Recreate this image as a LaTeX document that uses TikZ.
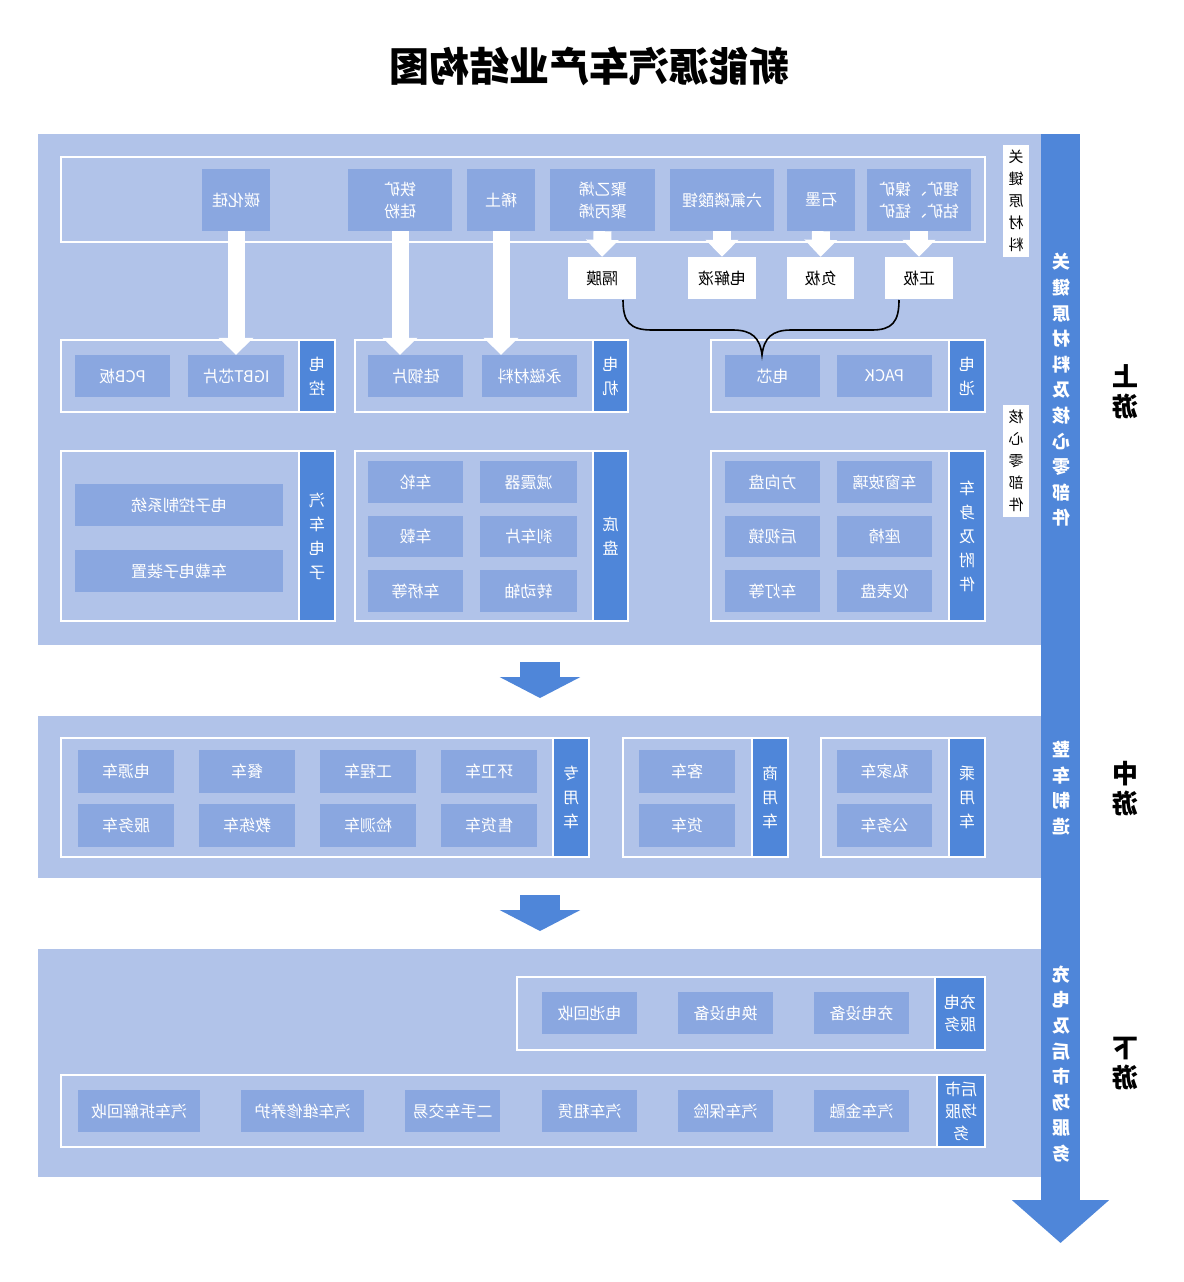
\documentclass[tikz,border=0pt]{standalone}
\usepackage{fontspec}
\setmainfont{Noto Sans CJK SC}
\usetikzlibrary{arrows.meta}
\definecolor{secbg}{HTML}{B1C3E9}
\definecolor{boxc}{HTML}{8AA7E0}
\definecolor{labc}{HTML}{4F86D9}
\tikzset{
 mir/.style={xscale=-1},
 grp/.style={draw=white, line width=1.8pt, inner sep=0},
 bx/.style={fill=boxc, text=white, inner sep=0, mir, font=\fontsize{16}{22}\selectfont, align=center},
 lab/.style={fill=labc, draw=white, line width=1.8pt, text=white, inner sep=0, mir, font=\fontsize{16}{24}\selectfont, align=center},
 labtwo/.style={lab, font=\fontsize{16}{22}\selectfont},
 wb/.style={fill=white, text=black, inner sep=0, mir, font=\fontsize{16}{22}\selectfont, align=center},
 wlab/.style={fill=white, text=black, inner sep=0, mir, font=\fontsize{15}{22}\selectfont, align=center},
 bigtxt/.style={text=white, mir, inner sep=0, font=\bfseries\fontsize{18}{25.6}\selectfont, align=center},
 stage/.style={text=black, mir, inner sep=0, font=\bfseries\fontsize{26}{30}\selectfont, align=center},
 warr/.style={draw=white, line width=17pt, -{Triangle[width=34pt,length=17pt]}},
 sarr/.style={draw=white, line width=18pt, -{Triangle[width=32pt,length=17pt]}},
 secarr/.style={draw=labc, line width=40pt, -{Triangle[width=80pt,length=21pt]}},
}
\newcommand\mybox[7]{\node[#6, minimum width={(#4)-(#2)}, minimum height={(#5)-(#3)}] (#1) at ({((#2)+(#4))/2},{((#3)+(#5))/2}) {#7};}
\begin{document}
\begin{tikzpicture}[x=1pt,y=-1pt]
\fill[white] (0,0) rectangle (1183,1282);
\useasboundingbox (0,0) rectangle (1183,1282);
% title
\node[mir, inner sep=0, font=\bfseries\fontsize{40}{42}\selectfont] (title) at (589,66) {新能源汽车产业结构图};
% sections
\mybox{s1}{38}{134}{1041}{645}{fill=secbg, inner sep=0}{}
\mybox{s2}{38}{716}{1041}{878}{fill=secbg, inner sep=0}{}
\mybox{s3}{38}{949}{1041}{1177}{fill=secbg, inner sep=0}{}
% big bar arrow
\coordinate (bartop) at (1060.5,134);
\coordinate (barend) at (1060.5,1243);
\draw[draw=labc, line width=39pt, -{Triangle[width=95pt,length=43pt]}] (bartop) -- (barend);
% section arrows
\coordinate (a1s) at (540,662); \coordinate (a1e) at (540,698);
\coordinate (a2s) at (540,895); \coordinate (a2e) at (540,931);
\draw[secarr] (a1s) -- (a1e);
\draw[secarr] (a2s) -- (a2e);
% key materials
\mybox{g0}{61}{157}{985}{242}{grp}{}
\mybox{m1}{202}{169}{270}{231}{bx}{碳化硅}
\mybox{m2}{348}{169}{452}{231}{bx}{铁矿\\硅粉}
\mybox{m3}{467}{169}{535}{231}{bx}{稀土}
\mybox{m4}{550}{169}{655}{231}{bx}{聚乙烯\\聚丙烯}
\mybox{m5}{670}{169}{774}{231}{bx}{六氟磷酸锂}
\mybox{m6}{787}{169}{855}{231}{bx}{石墨}
\mybox{m7}{867}{169}{971}{231}{bx}{锂矿、镍矿\\钴矿、锰矿}
\mybox{w1}{568}{257}{636}{299}{wb}{隔膜}
\mybox{w2}{688}{257}{756}{299}{wb}{电解液}
\mybox{w3}{787}{257}{854}{299}{wb}{负极}
\mybox{w4}{885}{257}{953}{299}{wb}{正极}
\draw[sarr] (m4.south) -- (w1.north);
\draw[sarr] (m5.south) -- (w2.north);
\draw[sarr] (m6.south) -- (w3.north);
\draw[sarr] (m7.south) -- (w4.north);
\mybox{k1}{1003}{145}{1029}{257}{wlab}{关\\键\\原\\材\\料}
\mybox{k2}{1003}{405}{1029}{517}{wlab}{核\\心\\零\\部\\件}
% row 2
\mybox{g1}{61}{340}{335}{412}{grp}{}
\mybox{l1}{299}{340}{335}{412}{lab}{电\\控}
\mybox{b11}{75}{355}{170}{397}{bx}{PCB板}
\mybox{b12}{188}{355}{284}{397}{bx}{IGBT芯片}
\mybox{g2}{355}{340}{628}{412}{grp}{}
\mybox{l2}{593}{340}{628}{412}{lab}{电\\机}
\mybox{b21}{368}{355}{463}{397}{bx}{硅钢片}
\mybox{b22}{482}{355}{577}{397}{bx}{永磁材料}
\mybox{g3}{711}{340}{985}{412}{grp}{}
\mybox{l3}{949}{340}{985}{412}{lab}{电\\池}
\mybox{b31}{725}{355}{820}{397}{bx}{电芯}
\mybox{b32}{837}{355}{932}{397}{bx}{PACK}
\draw[warr] (m1.south) -- (b12.north);
\draw[warr] (m2.south) -- (m2.south |- b21.north);
\draw[warr] (m3.south) -- (m3.south |- b22.north);
% brace
\coordinate (brl) at (623,300);
\coordinate (brr) at (899,300);
\coordinate (brt) at (762,355);
\draw[black, line width=1.6pt] (brl) .. controls (623,322) and (630,330) .. (652,330) -- (733,330) .. controls (752,330) and (760,338) .. (brt) .. controls (764,338) and (772,330) .. (791,330) -- (872,330) .. controls (892,330) and (899,322) .. (brr);
% row 3
\mybox{g4}{61}{451}{335}{621}{grp}{}
\mybox{l4}{299}{451}{335}{621}{lab}{汽\\车\\电\\子}
\mybox{b41}{75}{484}{283}{526}{bx}{电子控制系统}
\mybox{b42}{75}{550}{283}{592}{bx}{车载电子装置}
\mybox{g5}{355}{451}{628}{621}{grp}{}
\mybox{l5}{593}{451}{628}{621}{lab}{底\\盘}
\mybox{b51}{368}{461}{463}{503}{bx}{车轮}
\mybox{b52}{368}{516}{463}{557}{bx}{车毂}
\mybox{b53}{368}{570}{463}{612}{bx}{车桥等}
\mybox{b54}{480}{461}{577}{503}{bx}{减震器}
\mybox{b55}{480}{516}{577}{557}{bx}{刹车片}
\mybox{b56}{480}{570}{577}{612}{bx}{转动轴}
\mybox{g6}{711}{451}{985}{621}{grp}{}
\mybox{l6}{949}{451}{985}{621}{lab}{车\\身\\及\\附\\件}
\mybox{b61}{725}{461}{820}{503}{bx}{方向盘}
\mybox{b62}{725}{516}{820}{557}{bx}{后视镜}
\mybox{b63}{725}{570}{820}{612}{bx}{车灯等}
\mybox{b64}{837}{461}{932}{503}{bx}{车窗玻璃}
\mybox{b65}{837}{516}{932}{557}{bx}{座椅}
\mybox{b66}{837}{570}{932}{612}{bx}{仪表盘}
% middle
\mybox{g7}{61}{738}{589}{857}{grp}{}
\mybox{l7}{553}{738}{589}{857}{lab}{专\\用\\车}
\mybox{c1}{78}{750}{174}{793}{bx}{电源车}
\mybox{c2}{199}{750}{295}{793}{bx}{餐车}
\mybox{c3}{320}{750}{416}{793}{bx}{工程车}
\mybox{c4}{441}{750}{537}{793}{bx}{环卫车}
\mybox{c5}{78}{804}{174}{847}{bx}{服务车}
\mybox{c6}{199}{804}{295}{847}{bx}{教练车}
\mybox{c7}{320}{804}{416}{847}{bx}{检测车}
\mybox{c8}{441}{804}{537}{847}{bx}{售货车}
\mybox{g8}{623}{738}{788}{857}{grp}{}
\mybox{l8}{752}{738}{788}{857}{lab}{商\\用\\车}
\mybox{c9}{639}{750}{735}{793}{bx}{客车}
\mybox{c10}{639}{804}{735}{847}{bx}{货车}
\mybox{g9}{821}{738}{985}{857}{grp}{}
\mybox{l9}{949}{738}{985}{857}{lab}{乘\\用\\车}
\mybox{c11}{837}{750}{932}{793}{bx}{私家车}
\mybox{c12}{837}{804}{932}{847}{bx}{公务车}
% lower
\mybox{g10}{517}{977}{985}{1050}{grp}{}
\mybox{l10}{935}{977}{985}{1050}{labtwo}{充电\\服务}
\mybox{d1}{542}{992}{637}{1034}{bx}{电池回收}
\mybox{d2}{678}{992}{773}{1034}{bx}{换电设备}
\mybox{d3}{814}{992}{909}{1034}{bx}{充电设备}
\mybox{g11}{61}{1075}{985}{1147}{grp}{}
\mybox{l11}{937}{1075}{985}{1147}{labtwo}{后市\\场服\\务}
\mybox{e1}{78}{1090}{200}{1132}{bx}{汽车拆解回收}
\mybox{e2}{241}{1090}{364}{1132}{bx}{汽车维修养护}
\mybox{e3}{405}{1090}{500}{1132}{bx}{二手车交易}
\mybox{e4}{542}{1090}{637}{1132}{bx}{汽车租赁}
\mybox{e5}{678}{1090}{773}{1132}{bx}{汽车保险}
\mybox{e6}{814}{1090}{909}{1132}{bx}{汽车金融}
% bar texts
\node[bigtxt] (t1) at (1061,390) {关\\键\\原\\材\\料\\及\\核\\心\\零\\部\\件};
\node[bigtxt] (t2) at (1061,788) {整\\车\\制\\造};
\node[bigtxt] (t3) at (1061,1064) {充\\电\\及\\后\\市\\场\\服\\务};
% stage labels
\node[stage] (u1) at (1125,392) {上\\游};
\node[stage] (u2) at (1125,789) {中\\游};
\node[stage] (u3) at (1125,1064) {下\\游};
\end{tikzpicture}
\end{document}
